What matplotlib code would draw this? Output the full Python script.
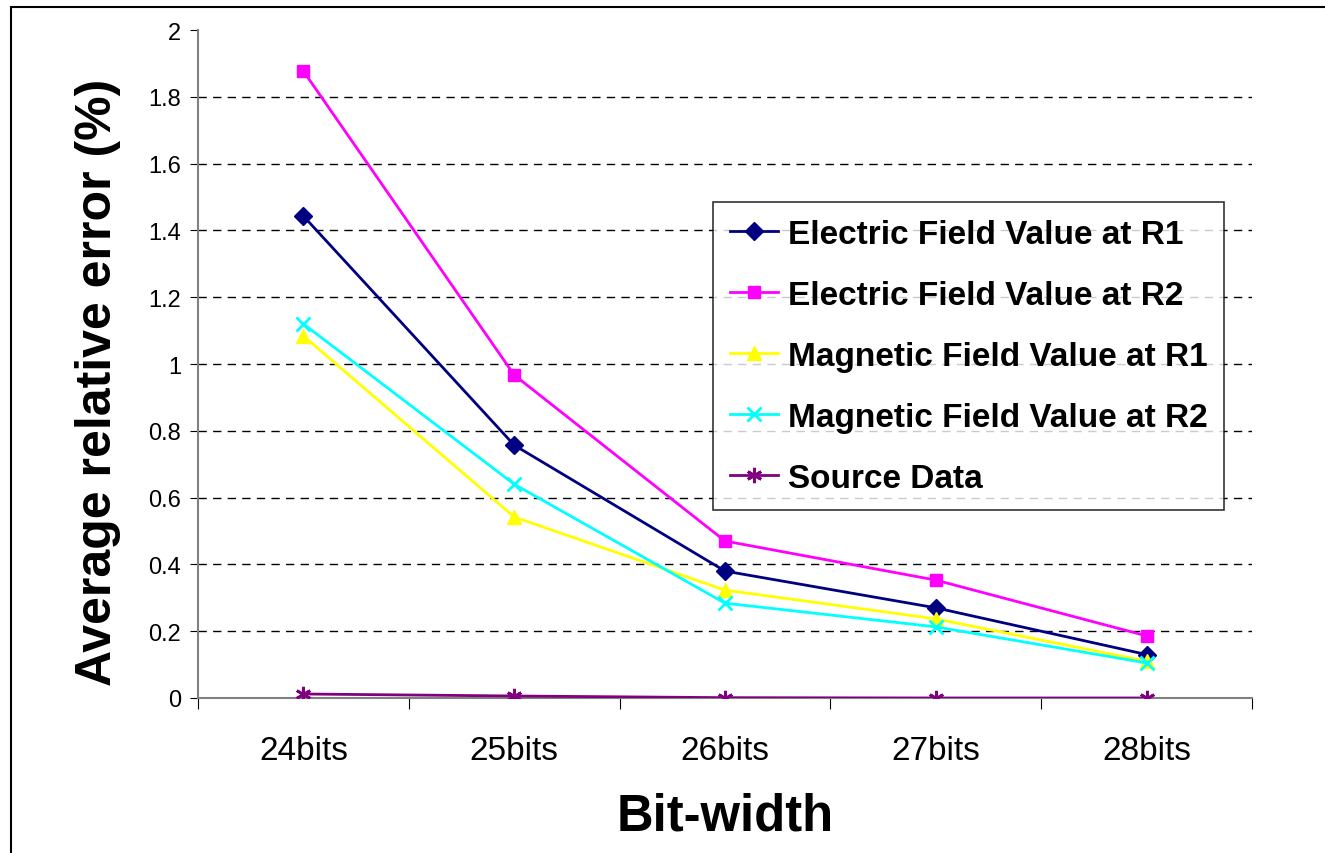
import matplotlib
matplotlib.use("Agg")
import matplotlib.pyplot as plt
from matplotlib.patches import Rectangle

categories = ["24bits", "25bits", "26bits", "27bits", "28bits"]
electric_r1 = [1.443, 0.757, 0.38, 0.27, 0.13]
electric_r2 = [1.877, 0.967, 0.47, 0.353, 0.186]
magnetic_r1 = [1.084, 0.542, 0.323, 0.237, 0.11]
magnetic_r2 = [1.12, 0.64, 0.284, 0.213, 0.105]
source_data = [0.012, 0.006, 0.001, 0.0, 0.0]

series = [
    ("Electric Field Value at R1", electric_r1, "#000080", "D", 9),
    ("Electric Field Value at R2", electric_r2, "#FF00FF", "s", 9),
    ("Magnetic Field Value at R1", magnetic_r1, "#FFFF00", "^", 10),
    ("Magnetic Field Value at R2", magnetic_r2, "#00FFFF", "x", 10),
    ("Source Data", source_data, "#800080", (6, 2, 0), 11),
]

plt.rcParams["font.family"] = ["Liberation Sans", "DejaVu Sans"]

fig = plt.figure(figsize=(13.25, 8.54), dpi=100)
ax = fig.add_axes([198 / 1325, 1 - 699 / 854, (1252 - 198) / 1325, (699 - 31) / 854])

x = list(range(len(categories)))
for label, vals, color, marker, ms in series:
    ax.plot(x, vals, color=color, lw=2, marker=marker, ms=ms,
            mew=2 if marker == "x" or isinstance(marker, tuple) else 1,
            mec=color, mfc=color, label=label, zorder=3)

ax.set_xlim(-0.5, len(categories) - 0.5)
ax.set_ylim(0, 2)
ax.set_yticks([i * 0.2 for i in range(11)])
ax.set_yticklabels(["0", "0.2", "0.4", "0.6", "0.8", "1", "1.2", "1.4", "1.6", "1.8", "2"])
ax.set_xticks([i - 0.5 for i in range(len(categories) + 1)])
ax.set_xticklabels([])
ax.set_xticks(x, minor=True)
ax.set_xticklabels(categories, minor=True, fontsize=24)
ax.tick_params(axis="x", which="major", direction="out", length=8, color="black")
ax.tick_params(axis="x", which="minor", length=0, pad=27)
ax.tick_params(axis="y", direction="out", length=6, labelsize=17, pad=6)

for side in ("top", "right"):
    ax.spines[side].set_visible(False)
for side in ("left", "bottom"):
    ax.spines[side].set_color("#808080")
    ax.spines[side].set_linewidth(1.5)

for yv in [i * 0.2 for i in range(1, 10)]:
    ax.axhline(yv, color="black", lw=1, ls=(0, (6, 4.5)), zorder=1)

ax.set_xlabel("Bit-width", fontsize=36.5, fontweight="bold", labelpad=18)
ax.set_ylabel("Average relative error (%)", fontsize=36, fontweight="bold")
ax.yaxis.set_label_coords(-0.073, 0.4746)

leg = ax.legend(loc="upper left", bbox_to_anchor=((713 - 198) / 1054, (699 - 203) / 668),
                prop={"size": 24, "weight": "bold"}, frameon=True, fancybox=False,
                handlelength=1.45, handletextpad=0.3, borderpad=0.5, labelspacing=0.9,
                borderaxespad=0)
leg.get_frame().set_edgecolor("black")
leg.get_frame().set_linewidth(1.2)

fig.patches.append(Rectangle((11 / 1325, -0.01), 1.0, 1 - 8 / 854 + 0.01,
                             transform=fig.transFigure, fill=False,
                             edgecolor="black", lw=1.5))

fig.savefig("out.png", dpi=100)
